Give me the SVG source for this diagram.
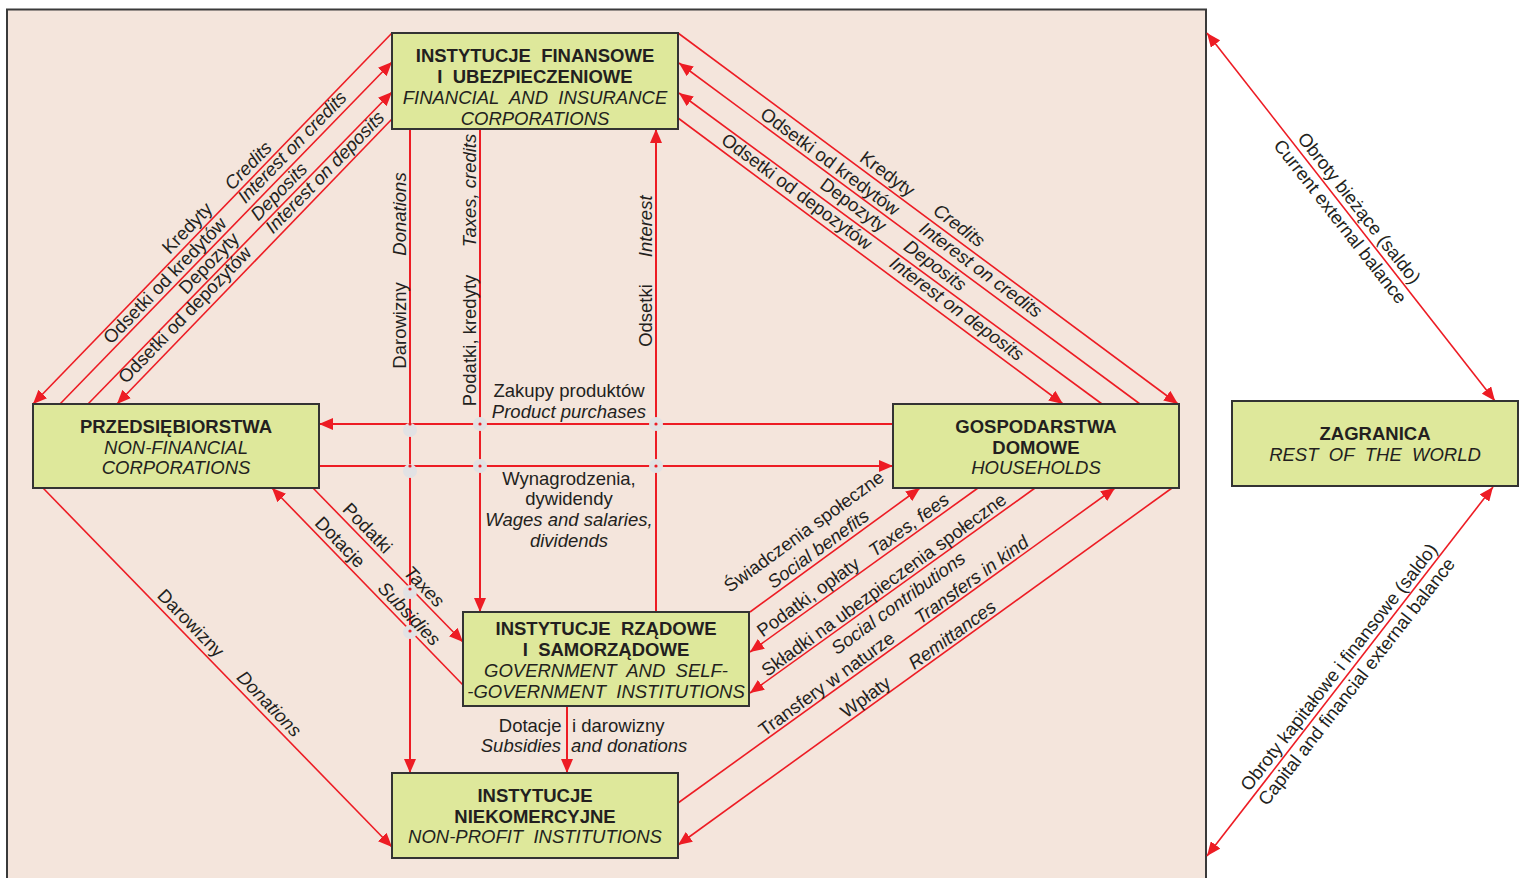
<svg xmlns="http://www.w3.org/2000/svg" width="1524" height="878" viewBox="0 0 1524 878">
<style>
.t{font-family:"Liberation Sans",Arial,sans-serif;font-size:18.5px;fill:#231f20}
.b{font-weight:bold}
.i{font-style:italic}
.m{text-anchor:middle}
.e{text-anchor:end}
.node{fill:#dee89b;stroke:#333;stroke-width:2}
.ln{fill:none;stroke:#ed1c24;stroke-width:1.6}
.lh{fill:none;stroke:#ed1c24;stroke-width:2}
.x{fill:#e2e2e4}
.d{fill:#ed1c24}
</style>
<defs>
<marker id="a" viewBox="0 0 14 12" refX="14" refY="6" markerWidth="14" markerHeight="12" orient="auto-start-reverse" markerUnits="userSpaceOnUse"><path d="M0,0 L14,6 L0,12 z" fill="#ed1c24"/></marker>
</defs>
<rect x="0" y="0" width="1524" height="878" fill="#ffffff"/>
<rect x="7" y="9.5" width="1199" height="880" fill="#f4e5dc" stroke="#3a3a3a" stroke-width="2"/>

<g id="connectors">
<path class="ln" d="M392,33 L33,404" marker-end="url(#a)"/>
<path class="ln" d="M60,404 L392,62" marker-end="url(#a)"/>
<path class="ln" d="M88,404 L392,92" marker-end="url(#a)"/>
<path class="ln" d="M392,119 L117,404" marker-end="url(#a)"/>
<path class="ln" d="M678,33 L1178,404" marker-end="url(#a)"/>
<path class="ln" d="M1140,404 L679,63" marker-end="url(#a)"/>
<path class="ln" d="M1102,404 L679,93" marker-end="url(#a)"/>
<path class="ln" d="M678,118 L1063,404" marker-end="url(#a)"/>
<path class="lh" d="M410,129 L410,773" marker-end="url(#a)"/>
<path class="lh" d="M480,129 L480,612" marker-end="url(#a)"/>
<path class="lh" d="M656,612 L656,129" marker-end="url(#a)"/>
<path class="lh" d="M893,424 L319,424" marker-end="url(#a)"/>
<path class="lh" d="M319,466 L893,466" marker-end="url(#a)"/>
<path class="ln" d="M313,488 L463,642" marker-end="url(#a)"/>
<path class="ln" d="M463,685 L272,488" marker-end="url(#a)"/>
<path class="ln" d="M43,488 L392,847" marker-end="url(#a)"/>
<path class="lh" d="M567,706 L567,773" marker-end="url(#a)"/>
<path class="ln" d="M750,612 L920,488" marker-end="url(#a)"/>
<path class="ln" d="M978,488 L750,652" marker-end="url(#a)"/>
<path class="ln" d="M1035,488 L750,693" marker-end="url(#a)"/>
<path class="ln" d="M678,803 L1115,488" marker-end="url(#a)"/>
<path class="ln" d="M1172,488 L678,845" marker-end="url(#a)"/>
<path class="ln" d="M1207,33 L1495,401" marker-start="url(#a)" marker-end="url(#a)"/>
<path class="ln" d="M1493,487 L1207,856" marker-start="url(#a)" marker-end="url(#a)"/>

<circle class="x" cx="410" cy="430" r="7"/>
<circle class="x" cx="410" cy="471" r="7"/>
<circle class="x" cx="480" cy="424" r="7"/>
<circle class="x" cx="480" cy="466" r="7"/>
<circle class="x" cx="656" cy="424" r="7"/>
<circle class="x" cx="656" cy="466" r="7"/>
<circle class="x" cx="410" cy="592" r="7"/>
<circle class="x" cx="410" cy="632" r="7"/>
<circle class="d" cx="410" cy="424" r="1.6"/>
<circle class="d" cx="410" cy="466" r="1.6"/>
<circle class="d" cx="480" cy="424" r="1.6"/>
<circle class="d" cx="480" cy="466" r="1.6"/>
<circle class="d" cx="656" cy="424" r="1.6"/>
<circle class="d" cx="656" cy="466" r="1.6"/>
<circle class="d" cx="410" cy="589" r="1.6"/>
<circle class="d" cx="410" cy="631" r="1.6"/>

<!-- top-left labels -->
<text class="t m" transform="translate(187.3,228.3) rotate(-45.9)" y="6">Kredyty</text>
<text class="t m i" transform="translate(248.3,165.7) rotate(-45.9)" y="6">Credits</text>
<text class="t m" transform="translate(165,280.7) rotate(-45.9)" y="6">Odsetki od kredytów</text>
<text class="t m i" transform="translate(292.3,147.3) rotate(-45.9)" y="6">Interest on credits</text>
<text class="t m" transform="translate(209,263.3) rotate(-45.9)" y="6">Depozyty</text>
<text class="t m i" transform="translate(279,191.7) rotate(-45.9)" y="6">Deposits</text>
<text class="t m" transform="translate(185,315) rotate(-45.9)" y="6">Odsetki od depozytów</text>
<text class="t m i" transform="translate(325,172.3) rotate(-45.9)" y="6">Interest on deposits</text>
<!-- top-right labels -->
<text class="t m" transform="translate(887.3,174) rotate(36.5)" y="6">Kredyty</text>
<text class="t m i" transform="translate(959,225.7) rotate(36.5)" y="6">Credits</text>
<text class="t m" transform="translate(830,161.7) rotate(36.5)" y="6">Odsetki od kredytów</text>
<text class="t m i" transform="translate(980.7,270) rotate(36.5)" y="6">Interest on credits</text>
<text class="t m" transform="translate(853.3,205) rotate(36.5)" y="6">Depozyty</text>
<text class="t m i" transform="translate(935,265.7) rotate(36.5)" y="6">Deposits</text>
<text class="t m" transform="translate(796.7,191.7) rotate(36.5)" y="6">Odsetki od depozytów</text>
<text class="t m i" transform="translate(956.7,309) rotate(36.5)" y="6">Interest on deposits</text>
<!-- vertical labels -->
<text class="t m" transform="translate(399,325.5) rotate(-90)" y="6.7">Darowizny</text>
<text class="t m i" transform="translate(399,214) rotate(-90)" y="6.7">Donations</text>
<text class="t m" transform="translate(469,340.5) rotate(-90)" y="6.7">Podatki, kredyty</text>
<text class="t m i" transform="translate(469,190.5) rotate(-90)" y="6.7">Taxes, credits</text>
<text class="t m" transform="translate(645,315.5) rotate(-90)" y="6.7">Odsetki</text>
<text class="t m i" transform="translate(645,226.3) rotate(-90)" y="6.7">Interest</text>
<!-- horizontal labels -->
<text class="t m" x="569" y="397">Zakupy produktów</text>
<text class="t m i" x="569" y="418">Product purchases</text>
<text class="t m" x="569" y="484.5">Wynagrodzenia,</text>
<text class="t m" x="569" y="505">dywidendy</text>
<text class="t m i" x="569" y="526">Wages and salaries,</text>
<text class="t m i" x="569" y="547">dividends</text>
<!-- bottom-left labels -->
<text class="t m" transform="translate(367.3,528.3) rotate(45.9)" y="6">Podatki</text>
<text class="t m i" transform="translate(424,586.7) rotate(45.9)" y="6">Taxes</text>
<text class="t m" transform="translate(340,542.3) rotate(45.9)" y="6">Dotacje</text>
<text class="t m i" transform="translate(409,614) rotate(45.9)" y="6">Subsidies</text>
<text class="t m" transform="translate(190.7,623.3) rotate(45.8)" y="6">Darowizny</text>
<text class="t m i" transform="translate(269,704) rotate(45.8)" y="6">Donations</text>
<!-- gov to npi labels -->
<text class="t e" x="561.5" y="731.5">Dotacje</text>
<text class="t e i" x="561" y="752">Subsidies</text>
<text class="t" x="572" y="731.5">i darowizny</text>
<text class="t i" x="571" y="752">and donations</text>
<!-- bottom-right labels -->
<text class="t m" transform="translate(804,531.7) rotate(-36)" y="6">Świadczenia społeczne</text>
<text class="t m i" transform="translate(818.3,549) rotate(-36)" y="6">Social benefits</text>
<text class="t m" transform="translate(808.3,597.3) rotate(-36)" y="6">Podatki, opłaty</text>
<text class="t m i" transform="translate(909,525) rotate(-36)" y="6">Taxes, fees</text>
<text class="t m" transform="translate(884,585) rotate(-36)" y="6">Składki na ubezpieczenia społeczne</text>
<text class="t m i" transform="translate(898.3,603.3) rotate(-36)" y="6">Social contributions</text>
<text class="t m" transform="translate(826.7,684) rotate(-36)" y="6">Transfery w naturze</text>
<text class="t m i" transform="translate(971.7,580) rotate(-36)" y="6">Transfers in kind</text>
<text class="t m" transform="translate(865.7,697.3) rotate(-36)" y="6">Wpłaty</text>
<text class="t m i" transform="translate(952.3,635) rotate(-36)" y="6">Remittances</text>
<!-- rest of world labels -->
<text class="t m" transform="translate(1359,208.3) rotate(51.9)" y="6">Obroty bieżące (saldo)</text>
<text class="t m" transform="translate(1340,221.7) rotate(51.9)" y="6">Current external balance</text>
<text class="t m" transform="translate(1339,667.3) rotate(-52.1)" y="6">Obroty kapitałowe i finansowe (saldo)</text>
<text class="t m" transform="translate(1356.7,681.7) rotate(-52.1)" y="6">Capital and financial external balance</text>
</g>

<g id="fin">
<rect class="node" x="392" y="33" width="286" height="96"/>
<text class="t m b" x="535" y="61.5">INSTYTUCJE&#160; FINANSOWE</text>
<text class="t m b" x="535" y="82.5">I&#160; UBEZPIECZENIOWE</text>
<text class="t m i" x="535" y="103.5">FINANCIAL&#160; AND&#160; INSURANCE</text>
<text class="t m i" x="535" y="124.5">CORPORATIONS</text>
</g>
<g id="prz">
<rect class="node" x="33" y="404" width="286" height="84"/>
<text class="t m b" x="176" y="432.5">PRZEDSIĘBIORSTWA</text>
<text class="t m i" x="176" y="453.5">NON-FINANCIAL</text>
<text class="t m i" x="176" y="474">CORPORATIONS</text>
</g>
<g id="gosp">
<rect class="node" x="893" y="404" width="286" height="84"/>
<text class="t m b" x="1036" y="432.5">GOSPODARSTWA</text>
<text class="t m b" x="1036" y="453.5">DOMOWE</text>
<text class="t m i" x="1036" y="474">HOUSEHOLDS</text>
</g>
<g id="zagr">
<rect class="node" x="1232" y="401" width="286" height="85"/>
<text class="t m b" x="1375" y="440">ZAGRANICA</text>
<text class="t m i" x="1375" y="461">REST&#160; OF&#160; THE&#160; WORLD</text>
</g>
<g id="gov">
<rect class="node" x="463" y="612" width="286" height="94"/>
<text class="t m b" x="606" y="635">INSTYTUCJE&#160; RZĄDOWE</text>
<text class="t m b" x="606" y="656">I&#160; SAMORZĄDOWE</text>
<text class="t m i" x="606" y="677">GOVERNMENT&#160; AND&#160; SELF-</text>
<text class="t m i" x="606" y="698">-GOVERNMENT&#160; INSTITUTIONS</text>
</g>
<g id="npi">
<rect class="node" x="392" y="773" width="286" height="85"/>
<text class="t m b" x="535" y="802">INSTYTUCJE</text>
<text class="t m b" x="535" y="822.5">NIEKOMERCYJNE</text>
<text class="t m i" x="535" y="842.5">NON-PROFIT&#160; INSTITUTIONS</text>
</g>
</svg>
